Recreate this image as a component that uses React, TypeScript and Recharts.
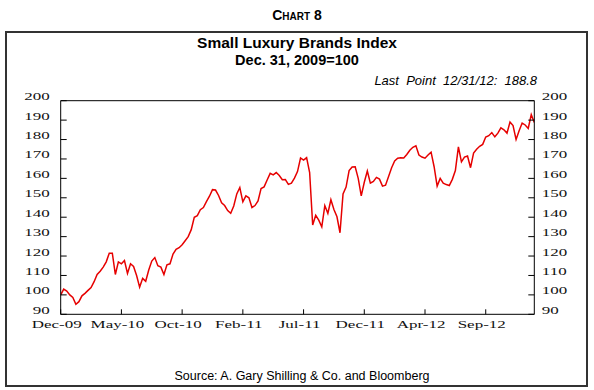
import React from 'react';
import { LineChart, Line, XAxis, YAxis, ReferenceLine } from 'recharts';

// Weekly index values (Dec. 31, 2009 = 100)
const indexValues: number[] = [
  100, 103, 102, 100, 98.7, 95.2, 96.5, 99.5, 100.8, 102.3,
  103.8, 106.8, 110.5, 112.2, 114.3, 117, 121.5, 121.5, 110.5, 117,
  116, 117.7, 111, 116, 114.6, 110, 104, 108.5, 107, 112.8,
  117.4, 119.2, 115, 114.3, 110.5, 115.5, 116, 121, 123.5, 124.3,
  125.8, 127.9, 130, 133.6, 140, 140.8, 143.9, 145, 148, 150.8,
  154.2, 154, 151.2, 147.4, 146, 143.4, 142, 145.8, 152, 155.3,
  147.9, 151, 150, 145, 146, 148.4, 154.8, 155.6, 159.2, 162.6,
  161.8, 163, 161.5, 159.3, 159.4, 156.9, 157.5, 160.1, 163.5, 170.5,
  169.4, 170.7, 163, 136, 141, 138.5, 135, 146, 142, 149,
  144, 140.2, 132, 152, 155.5, 164, 165.9, 166, 160, 151,
  158, 163.8, 157.5, 158.4, 160.5, 159.6, 156, 156.5, 161, 165.5,
  169, 170.4, 170.6, 170.5, 172.3, 174.5, 176, 176.8, 172, 171,
  170.4, 172, 173.5, 166, 156, 160, 157.5, 156.8, 156.3, 159.5,
  164, 176.2, 168.5, 171, 171.5, 165.5, 173, 175, 176.5, 177.5,
  181.3, 182, 183.6, 181.4, 183.3, 186, 185, 183.3, 189, 187.2,
  180, 184.5, 188.5, 187.5, 185.7, 192.8, 188.8,
];

// trading days between weekly observations
const daysPerPoint = 5;
const xTickDays: number[] = [0, 100, 200, 300, 400, 500, 600, 700];
const xTickLabels: string[] = ['Dec-09', 'May-10', 'Oct-10', 'Feb-11', 'Jul-11', 'Dec-11', 'Apr-12', 'Sep-12'];
const yTicks: number[] = [90, 100, 110, 120, 130, 140, 150, 160, 170, 180, 190, 200];

const data = indexValues.map((v, i) => ({ day: i * daysPerPoint, value: v }));

const serif = '"Liberation Serif", "Times New Roman", serif';
const sans = '"Liberation Sans", Arial, sans-serif';
const SX = 1.7;

const LeftTick = (props: any) => {
  const { x, y, payload } = props;
  return (
    <g>
      <line x1={x} x2={x + 6} y1={y} y2={y} stroke="#000" strokeWidth={1} />
      <text transform={`translate(${x - 11},${y - 0.5}) scale(${SX},1)`} textAnchor="end" fontFamily={serif} fontSize={10} fill="#111">
        {payload.value}
      </text>
    </g>
  );
};

const RightTick = (props: any) => {
  const { x, y, payload } = props;
  return (
    <g>
      <line x1={x - 6} x2={x} y1={y} y2={y} stroke="#000" strokeWidth={1} />
      <text transform={`translate(${x + 7.5},${y - 0.5}) scale(${SX},1)`} textAnchor="start" fontFamily={serif} fontSize={10} fill="#111">
        {payload.value}
      </text>
    </g>
  );
};

const BottomTick = (props: any) => {
  const { x, y, payload } = props;
  const idx = xTickDays.indexOf(payload.value);
  return (
    <g>
      <line x1={x} x2={x} y1={y} y2={y - 5} stroke="#000" strokeWidth={1} />
      <text transform={`translate(${x - 4},${y + 14}) scale(${SX},1)`} textAnchor="middle" fontFamily={serif} fontSize={10} fill="#111">
        {idx >= 0 ? xTickLabels[idx] : ''}
      </text>
    </g>
  );
};

export default function App() {
  return (
    <div style={{ position: 'absolute', left: 0, top: 0, width: 594, height: 390, background: '#fff' }}>
      <svg width={594} height={390} style={{ position: 'absolute', left: 0, top: 0 }}>
        <rect x={6} y={32} width={581} height={354} fill="none" stroke="#333" strokeWidth={2} />
        <text x={297} y={20} textAnchor="middle" fontFamily={sans} fontWeight="bold" fontSize={14} style={{ fontVariant: 'small-caps' }}>
          Chart 8
        </text>
        <text x={297} y={48} textAnchor="middle" fontFamily={sans} fontWeight="bold" fontSize={15.5}>
          Small Luxury Brands Index
        </text>
        <text x={297} y={65} textAnchor="middle" fontFamily={sans} fontWeight="bold" fontSize={14.5}>
          Dec. 31, 2009=100
        </text>
        <text x={537} y={85} textAnchor="end" fontFamily={sans} fontStyle="italic" fontSize={13} style={{ whiteSpace: 'pre' }}>
          {'Last  Point  12/31/12:  188.8'}
        </text>
        <text x={302} y={380} textAnchor="middle" fontFamily={sans} fontSize={12.5}>
          Source: A. Gary Shilling &amp; Co. and Bloomberg
        </text>
      </svg>
      <div style={{ position: 'absolute', left: 0, top: 0 }}>
        <LineChart width={594} height={390} data={data} margin={{ top: 100.7, right: 0, left: 0, bottom: 0 }}>
          <XAxis
            dataKey="day"
            type="number"
            domain={[0, 780]}
            ticks={xTickDays}
            interval={0}
            height={75.7}
            tickSize={0}
            tickMargin={0}
            tickLine={false}
            axisLine={{ stroke: '#000', strokeWidth: 1 }}
            tick={<BottomTick />}
            allowDataOverflow
          />
          <YAxis
            yAxisId="left"
            orientation="left"
            domain={[90, 200]}
            ticks={yTicks}
            interval={0}
            width={60.7}
            tickSize={0}
            tickMargin={0}
            tickLine={false}
            axisLine={{ stroke: '#000', strokeWidth: 1 }}
            tick={<LeftTick />}
            allowDataOverflow
          />
          <YAxis
            yAxisId="right"
            orientation="right"
            domain={[90, 200]}
            ticks={yTicks}
            interval={0}
            width={59.7}
            tickSize={0}
            tickMargin={0}
            tickLine={false}
            axisLine={{ stroke: '#000', strokeWidth: 1 }}
            tick={<RightTick />}
            allowDataOverflow
          />
          <ReferenceLine yAxisId="left" y={200} stroke="#000" strokeWidth={1} />
          <Line
            yAxisId="left"
            type="linear"
            dataKey="value"
            stroke="#e60000"
            strokeWidth={1.5}
            dot={false}
            isAnimationActive={false}
          />
        </LineChart>
      </div>
    </div>
  );
}
